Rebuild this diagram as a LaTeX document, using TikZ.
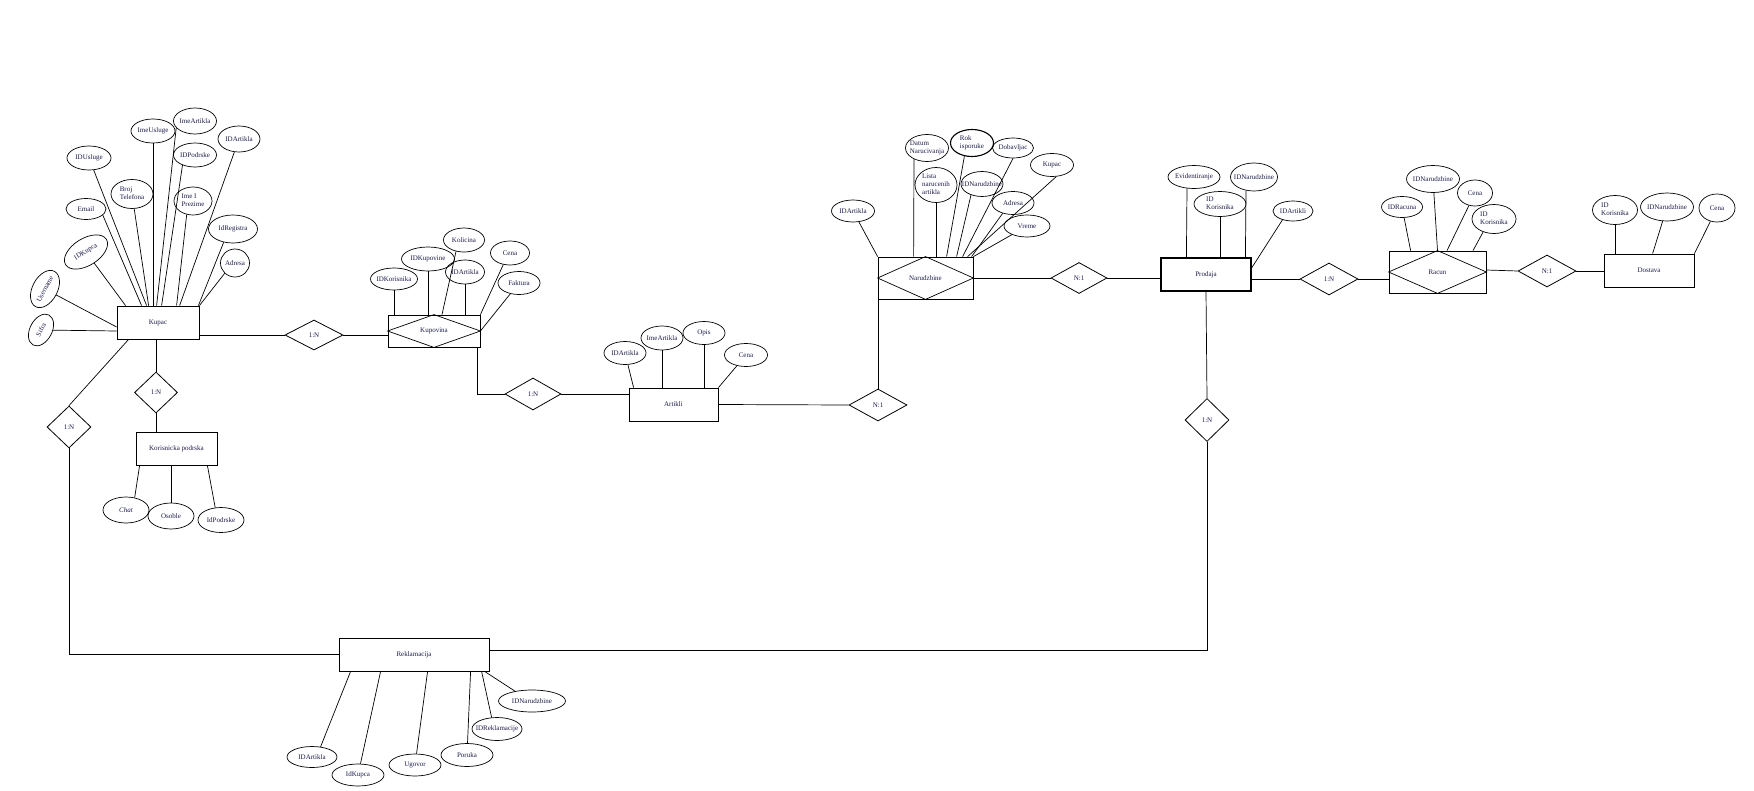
\documentclass[tikz,border=0pt]{standalone}
\usepackage{fontspec}
\setmainfont{Liberation Serif}
\usetikzlibrary{shapes.geometric}
\definecolor{txt}{RGB}{28,28,75}
\newcommand{\ertxt}[1]{\makebox[0pt]{#1}}
\newcommand{\ertab}[1]{\makebox[0pt]{\begin{tabular}{@{}l@{}}#1\end{tabular}}}
\begin{document}
\begin{tikzpicture}[x=1pt,y=-1pt,
  every node/.style={font=\fontsize{7}{8}\selectfont, text=txt},
  wh/.style 2 args={minimum width=#1pt, minimum height=#2pt},
  attr/.style={ellipse, draw, line width=0.7pt, inner sep=0pt, align=center},
  ent/.style={rectangle, draw, line width=0.8pt, inner sep=0pt},
  rel/.style={diamond, draw, line width=0.8pt, inner sep=0pt},
  conn/.style={line width=0.7pt}]
\useasboundingbox[fill=white] (0,0) rectangle (1754,790);

% ---------------- Kupac ----------------
\node[ent, wh={82}{33}] (kupac) at (158,322.5) {Kupac};
\node[attr, wh={40}{25}, rotate=62] (k_user) at (45,289) {\ertxt{Username}};
\node[attr, wh={34}{22}, rotate=62] (k_sifra) at (41,330) {\ertxt{Sifra}};
\node[attr, wh={48}{27}, rotate=32] (k_idk) at (86,252) {\ertxt{IDKupca}};
\node[attr, wh={40}{21}] (k_email) at (86,209) {\ertxt{Email}};
\node[attr, wh={44}{24}] (k_idusl) at (89,158) {\ertxt{IDUsluge}};
\node[attr, wh={42}{29}] (k_broj) at (132,194) {\ertab{Broj\\Telefona}};
\node[attr, wh={44}{24}] (k_imeusl) at (153,131) {\ertxt{ImeUsluge}};
\node[attr, wh={43}{26}] (k_imeart) at (195,121) {\ertxt{ImeArtikla}};
\node[attr, wh={43}{24}] (k_idpod) at (195,155) {\ertxt{IDPodrske}};
\node[attr, wh={42}{26}] (k_idart) at (239,139) {\ertxt{IDArtikla}};
\node[attr, wh={38}{28}] (k_ime) at (193,201) {\ertab{Ime I\\Prezime}};
\node[attr, wh={49}{28}] (k_idreg) at (233,229) {\ertxt{IdRegistra}};
\node[attr, wh={29}{28}] (k_adr) at (235,263) {\ertxt{Adresa}};

\draw[conn] (k_user) -- ([yshift=-4.5pt]kupac.west);
\draw[conn] (k_sifra) -- ([yshift=-8.5pt]kupac.west);
\draw[conn] (k_idk) -- ([xshift=9pt]kupac.north west);
\draw[conn] (k_email.-20) -- ([xshift=25pt]kupac.north west);
\draw[conn] (k_idusl) -- ([xshift=30pt]kupac.north west);
\draw[conn] (k_broj) -- ([xshift=32pt]kupac.north west);
\draw[conn] (k_imeusl) -- (k_imeusl |- kupac.north);
\draw[conn] (k_imeart.200) -- ([xshift=40pt]kupac.north west);
\draw[conn] (k_idpod.219) -- ([xshift=45pt]kupac.north west);
\draw[conn] (k_ime.245) -- ([xshift=60pt]kupac.north west);
\draw[conn] (k_idart) -- ([xshift=63pt]kupac.north west);
\draw[conn] (k_idreg.235) -- ([xshift=-1pt]kupac.north east);
\draw[conn] (k_adr.225) -- (kupac.north east);

% ---------------- Kupovina ----------------
\node[rel, wh={58}{30}] (r1) at (314,335) {1:N};
\node[ent, wh={92}{32}] (kupovina) at (434,331) {Kupovina};
\draw[conn] (kupovina.north) -- (kupovina.east) -- (kupovina.south) -- (kupovina.west) -- cycle;
\draw[conn] (r1.west) -- (r1.west -| kupac.east);
\draw[conn] (r1.east) -- (r1.east -| kupovina.west);

\node[attr, wh={47}{22}] (kp_idkor) at (394,279) {\ertxt{IDKorisnika}};
\node[attr, wh={53}{24}] (kp_idkup) at (428,259) {\ertxt{IDKupovine}};
\node[attr, wh={41}{24}] (kp_kol) at (464,240) {\ertxt{Kolicina}};
\node[attr, wh={39}{24}] (kp_idart) at (465,272) {\ertxt{IDArtikla}};
\node[attr, wh={39}{24}] (kp_cena) at (510,253) {\ertxt{Cena}};
\node[attr, wh={42}{23}] (kp_fak) at (519,283) {\ertxt{Faktura}};
\draw[conn] (kp_idkor) -- (kp_idkor |- kupovina.north);
\draw[conn] (kp_idkup) -- (kp_idkup |- kupovina.north);
\draw[conn] (kp_kol.235) -- ([xshift=8pt]kupovina.north);
\draw[conn] (kp_idart) -- (kp_idart |- kupovina.north);
\draw[conn] (kp_cena.240) -- (kupovina.north east);
\draw[conn] (kp_fak) -- (kupovina.east);

% ---------------- Artikli ----------------
\node[rel, wh={56}{32}] (r2) at (533,394) {1:N};
\node[ent, wh={89}{33}] (artikli) at (673.5,404.5) {Artikli};
\draw[conn] ([xshift=-3pt]kupovina.south east) |- (r2.west);
\draw[conn] (r2.east) -- (r2.east -| artikli.west);

\node[attr, wh={42}{23}] (a_idart) at (625,353) {\ertxt{IDArtikla}};
\node[attr, wh={42}{24}] (a_ime) at (662,338) {\ertxt{ImeArtikla}};
\node[attr, wh={42}{23}] (a_opis) at (704,333) {\ertxt{Opis}};
\node[attr, wh={43}{23}] (a_cena) at (746,355) {\ertxt{Cena}};
\draw[conn] (a_idart) -- ([xshift=5pt]artikli.north west);
\draw[conn] (a_ime) -- (a_ime |- artikli.north);
\draw[conn] (a_opis) -- (a_opis |- artikli.north);
\draw[conn] (a_cena) -- (artikli.north east);

% ---------------- Narudzbine ----------------
\node[rel, wh={58}{32}] (r3) at (878,405) {N:1};
\node[ent, wh={95}{42}] (narud) at (925.5,278) {Narudzbine};
\draw[conn] (narud.north) -- (narud.east) -- (narud.south) -- (narud.west) -- cycle;
\draw[conn] (artikli.east) -- (r3.west);
\draw[conn] (r3.north) -- (r3.north |- narud.south);

\node[attr, wh={43}{22}] (n_idart) at (853,211) {\ertxt{IDArtikla}};
\node[attr, wh={43}{27}] (n_datum) at (927,148) {\ertab{Datum\\Narucivanja}};
\node[attr, wh={43}{27}, line width=1.1pt] (n_rok) at (972,143) {\ertab{Rok\\isporuke}};
\node[attr, wh={41}{20}] (n_dob) at (1013,148) {\ertxt{Dobavljac}};
\node[attr, wh={43}{23}] (n_kupac) at (1052,165) {\ertxt{Kupac}};
\node[attr, wh={42}{35}] (n_lista) at (936,185) {\ertab{Lista\\narucenih\\artikla}};
\node[attr, wh={42}{25}] (n_idnar) at (982,184) {\ertxt{IDNarudzbine}};
\node[attr, wh={42}{23}] (n_adr) at (1013,203) {\ertxt{Adresa}};
\node[attr, wh={46}{22}] (n_vreme) at (1027,226) {\ertxt{Vreme}};
\draw[conn] (n_idart) -- (narud.north west);
\draw[conn] ([xshift=-13pt,yshift=2.7pt]n_datum.south) -- ([xshift=36pt]narud.north west);
\draw[conn] (n_lista) -- (n_lista |- narud.north);
\draw[conn] (n_rok.240) -- ([xshift=69pt]narud.north west);
\draw[conn] (n_idnar.225) -- ([xshift=79pt]narud.north west);
\draw[conn] (n_dob.270) -- ([xshift=85pt]narud.north west);
\draw[conn] (n_kupac.290) -- ([xshift=90pt]narud.north west);
\draw[conn] (n_adr.225) -- ([xshift=94pt]narud.north west);
\draw[conn] (n_vreme) -- (narud.north east);

% ---------------- Prodaja ----------------
\node[rel, wh={56}{31}] (r4) at (1079,278) {N:1};
\node[ent, wh={90}{33}, line width=1.2pt] (prodaja) at (1206,274.5) {Prodaja};
\draw[conn] (narud.east) -- (r4.west);
\draw[conn] (r4.east) -- (r4.east -| prodaja.west);

\node[attr, wh={52}{23}] (p_evid) at (1194,177) {\ertxt{Evidentiranje}};
\node[attr, wh={47}{28}] (p_idnar) at (1254,177) {\ertxt{IDNarudzbine}};
\node[attr, wh={52}{25}] (p_idkor) at (1220,204) {\ertab{ID\\Korisnika}};
\node[attr, wh={40}{20}] (p_idart) at (1293,211) {\ertxt{IDArtikli}};
\draw[conn] ([xshift=-7pt,yshift=0.4pt]p_evid.south) -- ([xshift=26pt]prodaja.north west);
\draw[conn] (p_idkor) -- (p_idkor |- prodaja.north);
\draw[conn] ([xshift=-8pt,yshift=0.8pt]p_idnar.south) -- ([xshift=85pt]prodaja.north west);
\draw[conn] (p_idart.220) -- ([yshift=6.5pt]prodaja.east);

% ---------------- Racun ----------------
\node[rel, wh={58}{32}] (r5) at (1329,279) {1:N};
\node[ent, wh={97}{42}] (racun) at (1437.5,272) {Racun};
\draw[conn] (racun.north) -- (racun.east) -- (racun.south) -- (racun.west) -- cycle;
\draw[conn] (r5.west -| prodaja.east) -- (r5.west);
\draw[conn] (r5.east) -- (r5.east -| racun.west);

\node[attr, wh={41}{21}] (r_idrac) at (1402,207) {\ertxt{IDRacuna}};
\node[attr, wh={53}{27}] (r_idnar) at (1433,179) {\ertxt{IDNarudzbine}};
\node[attr, wh={35}{26}] (r_cena) at (1475,193) {\ertxt{Cena}};
\node[attr, wh={44}{29}] (r_idkor) at (1494,219) {\ertab{ID\\Korisnika}};
\draw[conn] (r_idrac) -- ([xshift=22pt]racun.north west);
\draw[conn] (r_idnar) -- (racun.north);
\draw[conn] (r_cena) -- ([xshift=9.5pt]racun.north);
\draw[conn] (r_idkor.230) -- ([xshift=35.5pt]racun.north);

% ---------------- Dostava ----------------
\node[rel, wh={58}{32}] (r6) at (1547,271) {N:1};
\node[ent, wh={90}{33}] (dostava) at (1649,270.5) {Dostava};
\draw[conn] ([yshift=2pt]racun.east) -- (r6.west);
\draw[conn] (r6.east) -- (r6.east -| dostava.west);

\node[attr, wh={45}{29}] (d_idkor) at (1615,210) {\ertab{ID\\Korisnika}};
\node[attr, wh={53}{28}] (d_idnar) at (1667,207) {\ertxt{IDNarudzbine}};
\node[attr, wh={36}{28}] (d_cena) at (1717,208) {\ertxt{Cena}};
\draw[conn] (d_idkor) -- (d_idkor |- dostava.north);
\draw[conn] (d_idnar) -- ([xshift=49pt]dostava.north west);
\draw[conn] (d_cena) -- (dostava.north east);

% ---------------- Korisnicka podrska ----------------
\node[rel, wh={43}{41}] (r9) at (156,392.5) {1:N};
\node[ent, wh={81}{33}] (kpod) at (176.5,448.5) {Korisnicka podrska};
\draw[conn] (r9.north |- kupac.south) -- (r9.north);
\draw[conn] (r9.south) -- (r9.south |- kpod.north);

\node[attr, wh={46}{26}] (kd_chat) at (126,510) {\ertxt{\textit{Chat}}};
\node[attr, wh={46}{26}] (kd_osob) at (171,516) {\ertxt{Osoble}};
\node[attr, wh={46}{25}] (kd_idpod) at (221,520) {\ertxt{IdPodrske}};
\draw[conn] ([xshift=4pt]kpod.south west) -- (kd_chat.55);
\draw[conn] (kd_osob) -- (kd_osob |- kpod.south);
\draw[conn] ([xshift=-10pt]kpod.south east) -- (kd_idpod.115);

% ---------------- Reklamacija ----------------
\node[rel, wh={44}{42}] (r8) at (69,427) {1:N};
\node[rel, wh={44}{43}] (r7) at (1207,420) {1:N};
\node[ent, wh={150}{33}] (reklam) at (414,654.5) {Reklamacija};
\draw[conn] ([xshift=12pt]kupac.south west) -- (r8.north);
\draw[conn] (r8.south) |- (reklam.west);
\draw[conn] (prodaja.south) -- (r7.north);
\draw[conn] (r7.south) |- ([yshift=4.5pt]reklam.east);

\node[attr, wh={50}{21}] (rk_idart) at (312,757) {\ertxt{IDArtikla}};
\node[attr, wh={52}{22}] (rk_idk) at (358,775) {\ertxt{IdKupca}};
\node[attr, wh={52}{22}] (rk_ugov) at (415,765) {\ertxt{Ugovor}};
\node[attr, wh={52}{23}] (rk_por) at (467,755) {\ertxt{Poruka}};
\node[attr, wh={50}{23}] (rk_idrek) at (497,729) {\ertxt{IDReklamacije}};
\node[attr, wh={67}{22}] (rk_idnar) at (532,701) {\ertxt{IDNarudzbine}};
\draw[conn] ([xshift=12pt]reklam.south west) -- (rk_idart.50);
\draw[conn] ([xshift=42pt]reklam.south west) -- (rk_idk);
\draw[conn] ([xshift=89pt]reklam.south west) -- (rk_ugov);
\draw[conn] ([xshift=132pt]reklam.south west) -- (rk_por);
\draw[conn] ([xshift=143pt]reklam.south west) -- (rk_idrek.115);
\draw[conn] ([xshift=146pt]reklam.south west) -- (rk_idnar.150);
\end{tikzpicture}
\end{document}
